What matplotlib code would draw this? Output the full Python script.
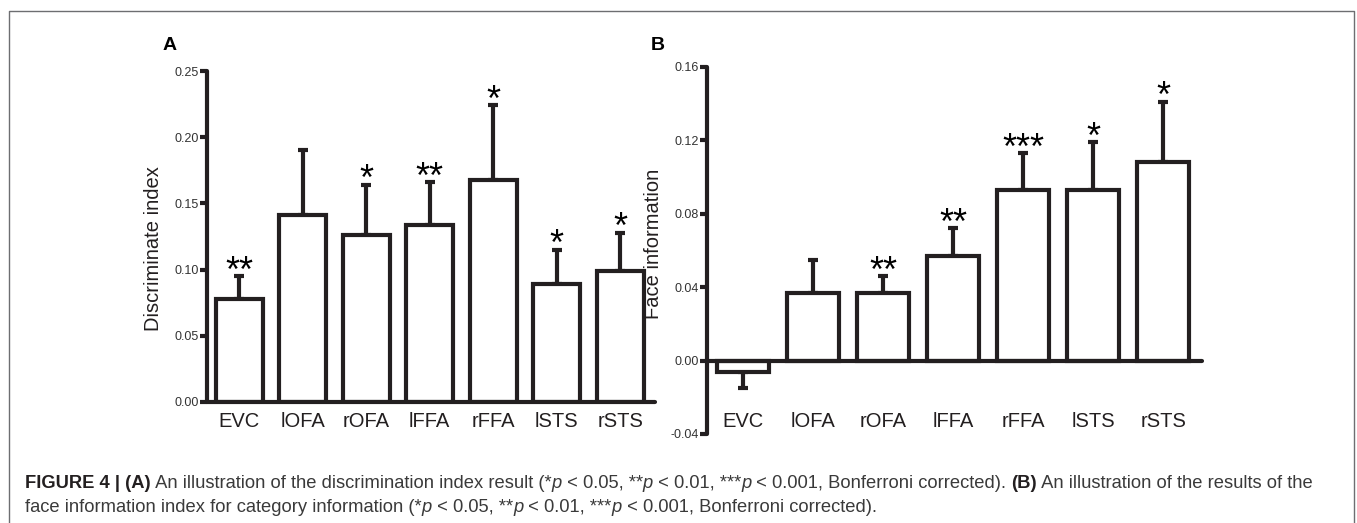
import numpy as np
import matplotlib
matplotlib.use("Agg")
import matplotlib.pyplot as plt
from matplotlib.lines import Line2D

plt.rcParams['font.family'] = ['Liberation Sans', 'DejaVu Sans']

regions = ['EVC', 'lOFA', 'rOFA', 'lFFA', 'rFFA', 'lSTS', 'rSTS']

disc_mean = [0.078, 0.141, 0.126, 0.134, 0.168, 0.089, 0.099]
disc_sem = [0.017, 0.049, 0.038, 0.032, 0.056, 0.026, 0.029]
disc_sig = ['**', '', '*', '**', '*', '*', '*']

face_mean = [-0.006, 0.037, 0.037, 0.057, 0.093, 0.093, 0.108]
face_sem = [0.009, 0.018, 0.009, 0.015, 0.020, 0.026, 0.033]
face_sig = ['', '', '**', '**', '***', '*', '*']

INK = '#231f20'
LW = 3.0
W, H = 1357, 523

fig = plt.figure(figsize=(W / 100, H / 100), dpi=100)


def px_axes(x0, x1, y_top, y_bot):
    return fig.add_axes([x0 / W, 1 - y_bot / H, (x1 - x0) / W, (y_bot - y_top) / H])


def bar_panel(ax, means, sems, sig, ylim, yticks, ylabel, label_pad):
    x = np.arange(len(regions))
    means = np.array(means)
    sems = np.array(sems)
    lower = np.where(means < 0, sems, 0)
    upper = np.where(means >= 0, sems, 0)
    ax.bar(x, means, width=0.74, color='white', edgecolor=INK, linewidth=LW, zorder=2)
    ax.errorbar(x, means, yerr=[lower, upper], fmt='none', ecolor=INK,
                elinewidth=LW, capsize=3.5, capthick=LW, zorder=1)
    for xi, m, s, star in zip(x, means, upper, sig):
        if star:
            ax.annotate(star, (xi, m + s), xytext=(0, -4), textcoords='offset points',
                        ha='center', va='baseline', fontsize=26, color='black')
    ax.set_xlim(-0.51, 6.55)
    ax.set_ylim(*ylim)
    ax.set_yticks(yticks)
    ax.set_yticklabels([f'{t:.2f}' for t in yticks])
    ax.set_xticks(x)
    ax.set_xticklabels(regions)
    for side in ['top', 'right']:
        ax.spines[side].set_visible(False)
    for side in ['left', 'bottom']:
        ax.spines[side].set_linewidth(LW)
        ax.spines[side].set_color(INK)
        ax.spines[side].set_capstyle('round')
    ax.spines['bottom'].set_position(('data', 0))
    ax.tick_params(axis='y', length=5, width=LW, color=INK, labelsize=9,
                   labelcolor='#333333', pad=1)
    ax.tick_params(axis='x', length=0, labelsize=14.5, labelcolor=INK, pad=label_pad)
    ax.set_ylabel(ylabel, fontsize=14.5, color=INK)
    ax.patch.set_visible(False)


axA = px_axes(207, 655, 71, 402)
bar_panel(axA, disc_mean, disc_sem, disc_sig, (0, 0.25),
          [0.0, 0.05, 0.10, 0.15, 0.20, 0.25], 'Discriminate index', 7)
axA.yaxis.set_label_coords(-0.098, 0.465)

axB = px_axes(707, 1202, 67, 434)
bar_panel(axB, face_mean, face_sem, face_sig, (-0.04, 0.16),
          [-0.04, 0.00, 0.04, 0.08, 0.12, 0.16], 'Face information', 37)
axB.yaxis.set_label_coords(-0.089, 0.518)

fig.text(170 / W, 1 - 45 / H, 'A', fontsize=14, fontweight='bold', ha='center', va='center')
fig.text(658 / W, 1 - 45 / H, 'B', fontsize=14, fontweight='bold', ha='center', va='center')

# outer frame, open at the bottom
frame = '#6d6e71'
fig.add_artist(Line2D([9 / W, 9 / W, 1354 / W, 1354 / W], [0, 1 - 11 / H, 1 - 11 / H, 0],
                      transform=fig.transFigure, color=frame, linewidth=1.0))

# caption with mixed bold / italic pieces
line1 = [("FIGURE 4 | (A)", 'bold', 'normal'), (" An illustration of the discrimination index result (*", 'normal', 'normal'),
         ("p", 'normal', 'italic'), (" < 0.05, **", 'normal', 'normal'), ("p", 'normal', 'italic'),
         (" < 0.01, ***", 'normal', 'normal'), ("p", 'normal', 'italic'),
         (" < 0.001, Bonferroni corrected). ", 'normal', 'normal'), ("(B)", 'bold', 'normal'),
         (" An illustration of the results of the", 'normal', 'normal')]
line2 = [("face information index for category information (*", 'normal', 'normal'), ("p", 'normal', 'italic'),
         (" < 0.05, **", 'normal', 'normal'), ("p", 'normal', 'italic'), (" < 0.01, ***", 'normal', 'normal'),
         ("p", 'normal', 'italic'), (" < 0.001, Bonferroni corrected).", 'normal', 'normal')]

renderer = fig.canvas.get_renderer()
for pieces, ypix in [(line1, 483), (line2, 507)]:
    xpix = 25
    for txt, weight, style in pieces:
        t = fig.text(xpix / W, 1 - ypix / H, txt, fontsize=13.25, fontweight=weight, fontstyle=style,
                     color='#231f20' if weight == 'bold' else '#3a3a3a', ha='left', va='center')
        xpix += t.get_window_extent(renderer).width

fig.savefig('out.png', dpi=100)
